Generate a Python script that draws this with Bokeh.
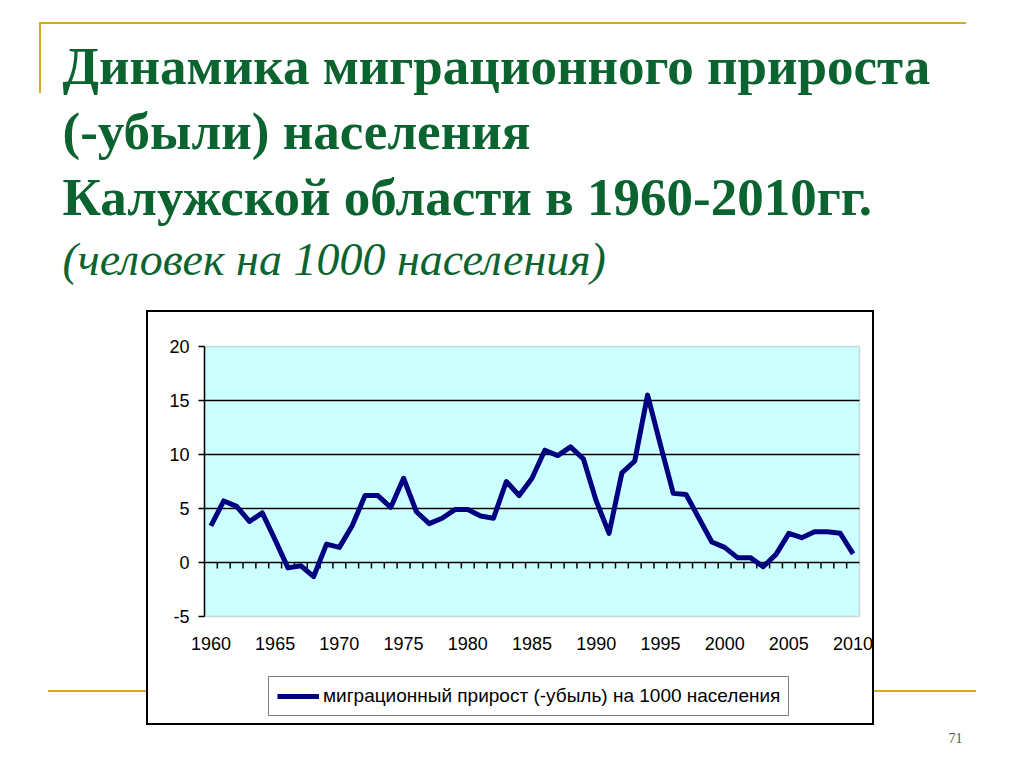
from bokeh.plotting import figure
from bokeh.models import (Range1d, FixedTicker, Label, BoxAnnotation, Legend, LegendItem)
from bokeh.embed import file_html
from bokeh.resources import INLINE

# ---- data ----
years = list(range(1960, 2011))
migration = [3.4, 5.7, 5.2, 3.8, 4.6, 2.1, -0.5, -0.3, -1.3, 1.7,
             1.4, 3.4, 6.2, 6.2, 5.1, 7.8, 4.7, 3.6, 4.1, 4.9,
             4.9, 4.3, 4.1, 7.5, 6.2, 7.8, 10.4, 9.9, 10.7, 9.6,
             5.7, 2.7, 8.3, 9.4, 15.5, 10.9, 6.4, 6.3, 4.1, 1.9,
             1.4, 0.45, 0.45, -0.4, 0.75, 2.7, 2.3, 2.85, 2.85, 2.7, 0.8]
x_tick_years = years[::5]
y_ticks = [-5, 0, 5, 10, 15, 20]
y_tick_labels = ["-5", "0", "5", "10", "15", "20"]
grid_values = [0, 5, 10, 15]
series_name = "миграционный прирост (-убыль) на 1000 населения"
title_lines = ["Динамика миграционного прироста",
               "(-убыли) населения",
               "Калужской области в 1960-2010гг."]
subtitle = "(человек на 1000 населения)"
page_number = "71"

# ---- layout (page pixels) ----
W, H = 1024, 767
PL, PR, PT, PB = 204, 859, 346, 616          # plot area edges
GREEN = "#0b6430"
GOLD = "#d9a62a"
NAVY = "#000080"

x_lo = years[0] - 0.5
x_hi = years[-1] + 0.5
ppx = (PR - PL) / (x_hi - x_lo)
ppy = (PB - PT) / (y_ticks[-1] - y_ticks[0])


def dx(px):
    return x_lo + (px - PL) / ppx


def dy(py):
    return y_ticks[-1] - (py - PT) / ppy


p = figure(width=W, height=H,
           x_range=Range1d(dx(0), dx(W)), y_range=Range1d(dy(H), dy(0)),
           output_backend="svg", toolbar_location=None, title=None,
           min_border=0, min_border_left=0, min_border_right=0,
           min_border_top=0, min_border_bottom=0)
p.background_fill_color = None
p.border_fill_color = None
p.outline_line_color = None

# slide decorations (gold rules, chart box) painted behind the canvas
gold_grad = f"linear-gradient({GOLD},{GOLD})"
p.styles = {
    "background-image": ", ".join([
        "linear-gradient(#ffffff,#ffffff)",
        "linear-gradient(#000000,#000000)",
        gold_grad, gold_grad, gold_grad]),
    "background-position": "148px 312px, 146px 310px, 48px 690px, 40px 22px, 39px 22px",
    "background-size": "724px 411px, 728px 415px, 928px 2px, 926px 2px, 2px 71px",
    "background-repeat": "no-repeat",
    "background-color": "#ffffff",
}

# plot area (light cyan with grey border)
p.add_layout(BoxAnnotation(left=x_lo, right=x_hi, bottom=y_ticks[0], top=y_ticks[-1],
                           fill_color="#ccffff", fill_alpha=1.0,
                           line_color="#808080", line_width=1.5, level="image"))

# horizontal grid lines limited to the plot area
p.xgrid.visible = False
p.ygrid.visible = False
p.segment(x0=[x_lo] * len(grid_values), y0=grid_values,
          x1=[x_hi] * len(grid_values), y1=grid_values,
          line_color="black", line_width=1.5)

# y axis
p.yaxis.fixed_location = x_lo
p.yaxis.bounds = (y_ticks[0], y_ticks[-1])
p.yaxis.ticker = FixedTicker(ticks=y_ticks)
p.yaxis.major_label_overrides = dict(zip(y_ticks, y_tick_labels))
p.yaxis.axis_line_color = "black"
p.yaxis.axis_line_width = 1.5
p.yaxis.major_tick_out = 6
p.yaxis.major_tick_in = 0
p.yaxis.major_tick_line_width = 1.5
p.yaxis.minor_tick_line_color = None
p.yaxis.major_label_text_font = "Liberation Sans"
p.yaxis.major_label_text_font_size = "18px"
p.yaxis.major_label_text_color = "black"
p.yaxis.major_label_standoff = 9

# x axis (labels only, under the plot area)
p.xaxis.fixed_location = y_ticks[0]
p.xaxis.ticker = FixedTicker(ticks=x_tick_years)
p.xaxis.axis_line_color = None
p.xaxis.major_tick_line_color = None
p.xaxis.minor_tick_line_color = None
p.xaxis.major_label_text_font = "Liberation Sans"
p.xaxis.major_label_text_font_size = "18px"
p.xaxis.major_label_text_color = "black"
p.xaxis.major_label_standoff = 14

# category boundary tick marks on the zero line
bounds = [y + 0.5 for y in years[:-1]]
p.segment(x0=bounds, y0=[0] * len(bounds), x1=bounds, y1=[-0.55] * len(bounds),
          line_color="black", line_width=1.5)

r = p.line(years, migration, line_color=NAVY, line_width=5, line_join="round")

legend = Legend(items=[LegendItem(label=series_name, renderers=[r])],
                location=(268, H - 716), margin=0, padding=8, spacing=0,
                glyph_width=42, glyph_height=20, label_height=20, label_standoff=4,
                border_line_color="black", border_line_width=1.5,
                background_fill_color="white", background_fill_alpha=1.0,
                label_text_font="Liberation Sans", label_text_font_size="19px",
                label_text_color="black")
p.add_layout(legend)

# titles
for txt, yb in zip(title_lines, [65, 130, 196]):
    p.add_layout(Label(x=dx(62), y=dy(yb), text=txt,
                       text_font="Liberation Serif", text_font_style="bold",
                       text_font_size="53px", text_color=GREEN,
                       text_baseline="alphabetic", text_align="left"))
p.add_layout(Label(x=dx(62), y=dy(259), text=subtitle,
                   text_font="Liberation Serif", text_font_style="italic",
                   text_font_size="46px", text_color=GREEN,
                   text_baseline="alphabetic", text_align="left"))
p.add_layout(Label(x=dx(955), y=dy(737), text=page_number,
                   text_font="Liberation Serif", text_font_size="14px",
                   text_color="#555555", text_baseline="middle", text_align="center"))

open("out.html", "w").write(file_html(p, INLINE))
